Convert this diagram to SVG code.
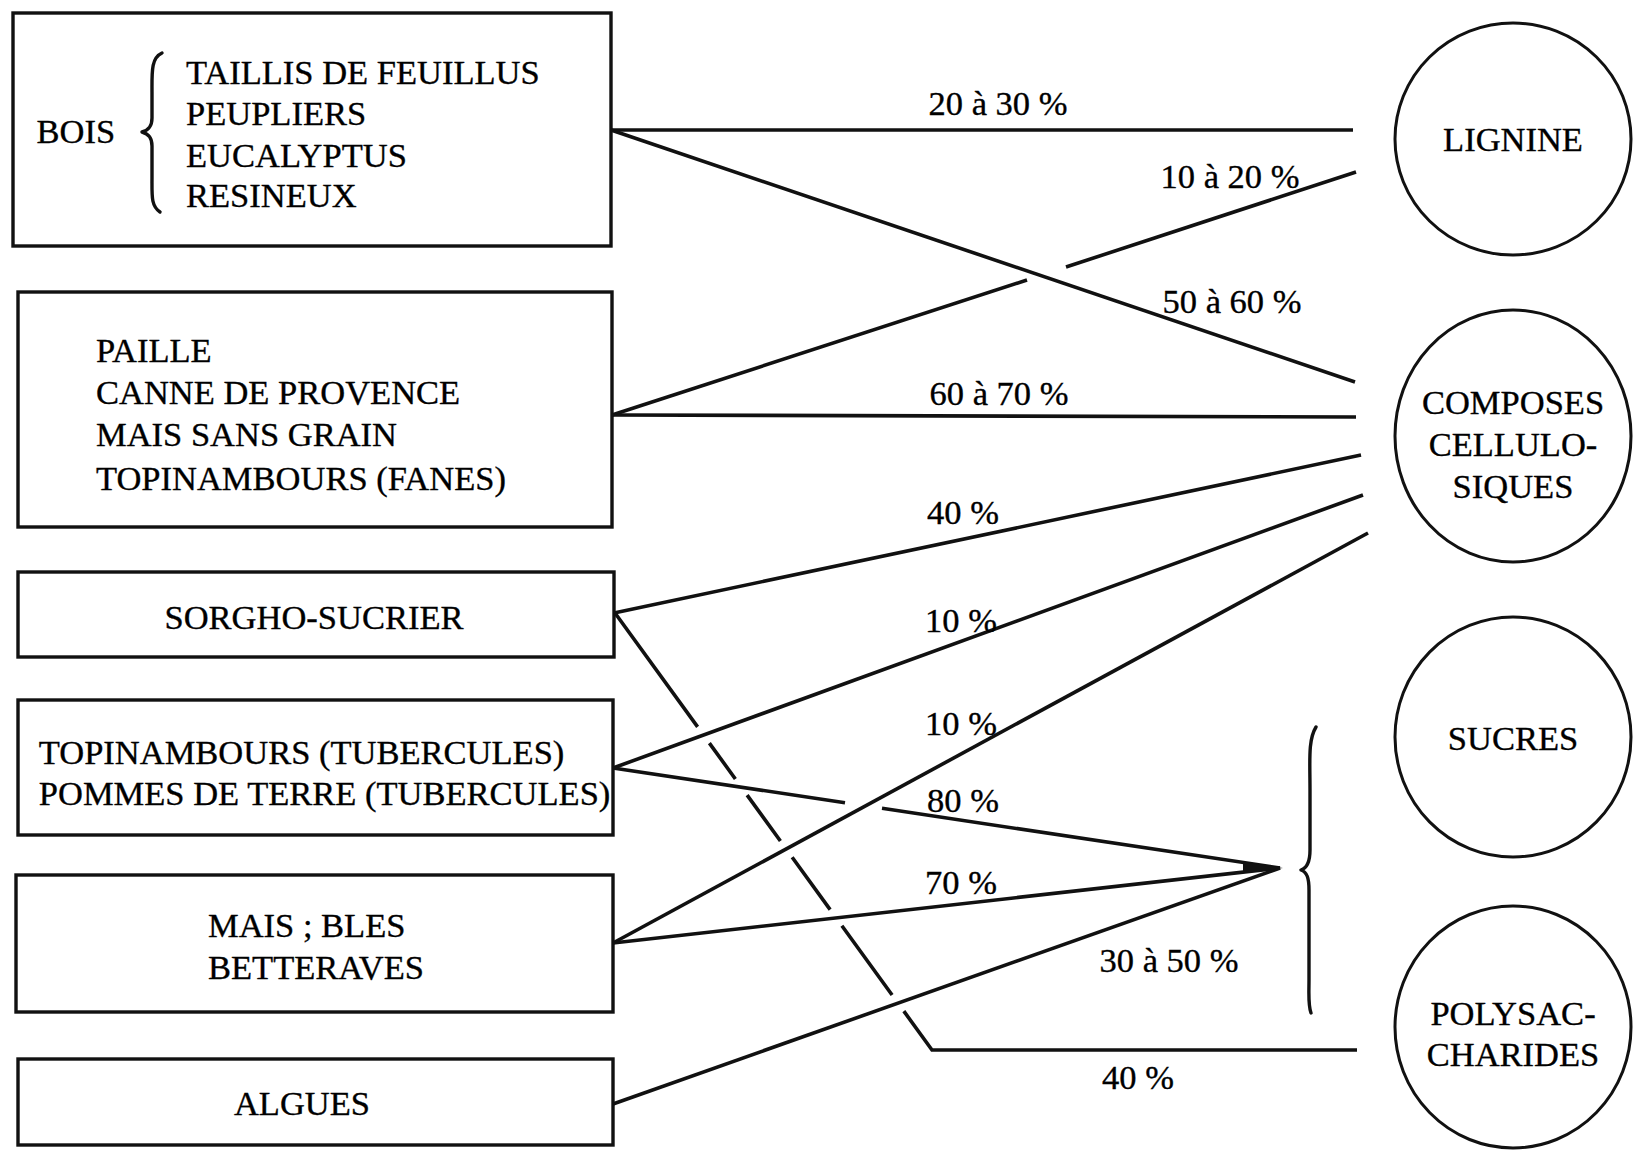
<svg xmlns="http://www.w3.org/2000/svg" width="1634" height="1152" viewBox="0 0 1634 1152">
<style>
text{font-family:"Liberation Serif","Times New Roman",serif;font-size:34.5px;fill:#000;stroke:#000;stroke-width:0.35}
.box{fill:none;stroke:#111;stroke-width:3.4}
.circ{fill:none;stroke:#111;stroke-width:3}
.ln{fill:none;stroke:#111;stroke-width:3.6;stroke-linecap:butt}
.mid{text-anchor:middle}
.brace{fill:none;stroke:#111;stroke-width:3.4;stroke-linecap:round;stroke-linejoin:round}
</style>
<rect width="1634" height="1152" fill="#fff"/>
<g id="bois">
<rect class="box" x="13" y="13" width="598" height="233"/>
<text x="36.5" y="143">BOIS</text>
<path class="brace" d="M162,53 C151,58 152,72 152,92 L152,118 C152,126 149,130 142,132 C149,134 152,138 152,146 L152,178 C152,196 151,206 160,212"/>
<text x="186" y="83.5">TAILLIS DE FEUILLUS</text>
<text x="186" y="125">PEUPLIERS</text>
<text x="186" y="166.5">EUCALYPTUS</text>
<text x="186" y="207">RESINEUX</text>
</g>
<g id="paille">
<rect class="box" x="18" y="292" width="594" height="235"/>
<text x="96" y="361.5">PAILLE</text>
<text x="96" y="403.5">CANNE DE PROVENCE</text>
<text x="96" y="446">MAIS SANS GRAIN</text>
<text x="96" y="489.5">TOPINAMBOURS (FANES)</text>
</g>
<g id="sorgho">
<rect class="box" x="18" y="572" width="596" height="85"/>
<text class="mid" x="314" y="628.5">SORGHO-SUCRIER</text>
</g>
<g id="topinambours">
<rect class="box" x="18" y="700" width="595" height="135"/>
<text x="38.8" y="763.5">TOPINAMBOURS (TUBERCULES)</text>
<text x="38.8" y="804.5">POMMES DE TERRE (TUBERCULES)</text>
</g>
<g id="mais">
<rect class="box" x="16" y="875" width="597" height="137"/>
<text x="208" y="937">MAIS ; BLES</text>
<text x="208" y="978.5">BETTERAVES</text>
</g>
<g id="algues">
<rect class="box" x="18" y="1059" width="595" height="86"/>
<text class="mid" x="302" y="1114.5">ALGUES</text>
</g>
<g id="lignine">
<ellipse class="circ" cx="1513" cy="139" rx="118" ry="116"/>
<text class="mid" x="1513" y="151">LIGNINE</text>
</g>
<g id="composes">
<ellipse class="circ" cx="1513" cy="436" rx="118" ry="126"/>
<text class="mid" x="1513" y="413.5">COMPOSES</text>
<text class="mid" x="1513" y="455.5">CELLULO-</text>
<text class="mid" x="1513" y="497.5">SIQUES</text>
</g>
<g id="sucres">
<ellipse class="circ" cx="1513" cy="737" rx="118" ry="120"/>
<text class="mid" x="1513" y="749.5">SUCRES</text>
</g>
<g id="polysaccharides">
<ellipse class="circ" cx="1513" cy="1027" rx="118" ry="121"/>
<text class="mid" x="1513" y="1024.5">POLYSAC-</text>
<text class="mid" x="1513" y="1066">CHARIDES</text>
</g>
<g id="connectors">
<line class="ln" x1="611" y1="130" x2="1353" y2="130"/>
<line class="ln" x1="611" y1="130" x2="1355" y2="382"/>
<line class="ln" x1="612" y1="415" x2="1027" y2="280"/>
<line class="ln" x1="1066" y1="267" x2="1356" y2="172"/>
<line class="ln" x1="612" y1="415" x2="1356" y2="417"/>
<line class="ln" x1="614" y1="613" x2="1361" y2="455"/>
<polyline class="ln" points="615,613 932,1050 1357,1050" stroke-dasharray="140.7 20 44.3 20 56.7 20 64.7 20 85.5 20 2000"/>
<line class="ln" x1="613" y1="768" x2="1363" y2="495"/>
<line class="ln" x1="613" y1="943" x2="1368" y2="533"/>
<line class="ln" x1="613" y1="768" x2="845" y2="802.7"/>
<line class="ln" x1="882" y1="808.3" x2="1280" y2="868"/>
<line class="ln" x1="613" y1="943" x2="1280" y2="868"/>
<line class="ln" x1="613" y1="1104" x2="1280" y2="868"/>
<polygon points="1283,868 1243,862 1243,873" fill="#111"/>
<path class="brace" d="M1316,727 C1308,740 1310,760 1310,790 L1310,850 C1310,862 1307,868 1301,870 C1307,872 1309,878 1309,890 L1309,980 C1309,995 1308,1005 1311,1013"/>
<text class="mid" x="998" y="115">20 à 30 %</text>
<text class="mid" x="1230" y="188">10 à 20 %</text>
<text class="mid" x="1232" y="313">50 à 60 %</text>
<text class="mid" x="999" y="405">60 à 70 %</text>
<text class="mid" x="963" y="523.5">40 %</text>
<text class="mid" x="961" y="632">10 %</text>
<text class="mid" x="961" y="735">10 %</text>
<text class="mid" x="963" y="812">80 %</text>
<text class="mid" x="961" y="893.5">70 %</text>
<text class="mid" x="1169" y="972">30 à 50 %</text>
<text class="mid" x="1138" y="1088.5">40 %</text>
</g>
</svg>
